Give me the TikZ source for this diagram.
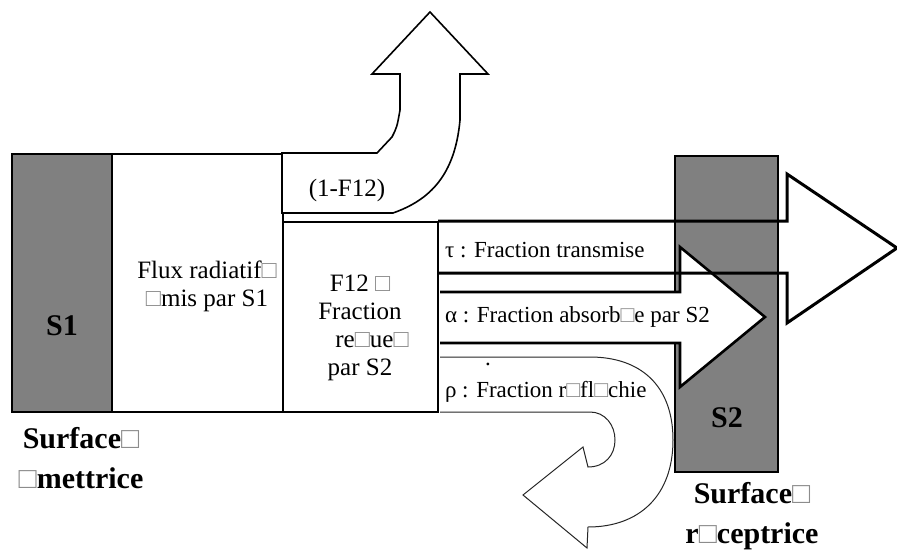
\documentclass[tikz,border=0pt]{standalone}
\usepackage{fontspec}
\setmainfont{Liberation Serif}
\usepackage{tikz}
\usetikzlibrary{positioning}
\definecolor{SurfGray}{HTML}{808080}
\definecolor{MissGray}{HTML}{8C8C8C}
\newcommand{\bx}{\textcolor{MissGray}{□}}

\begin{document}
\begin{tikzpicture}[x=1pt, y=1pt, every node/.style={inner sep=0pt, outer sep=0pt},
    panel/.style={draw, line width=1.8pt, minimum width=#1},
    boxtext/.style={font=\fontsize{25}{28}\selectfont, align=center},
    arrowtext/.style={font=\fontsize{23}{27}\selectfont, anchor=west},
    surflabel/.style={font=\bfseries\fontsize{30}{40}\selectfont, align=center},
    blockarrow/.style={draw, fill=white, line join=miter}]
    \useasboundingbox (0,0) rectangle (897,-551);
    \node[panel=100pt, fill=SurfGray, minimum height=258pt, anchor=north west] (s1) at (12,-154) {};
    \node[panel=171pt, fill=white, minimum height=258pt, right=0pt of s1] (flux) {};
    \node[panel=155pt, fill=white, minimum height=190pt, anchor=south west] (f12) at (flux.south east) {};
    \node[panel=103pt, fill=SurfGray, minimum height=316pt, anchor=north west] (s2) at (675,-156) {};
    \draw[blockarrow, line width=1.6pt] (282,-153) -- (377,-153) -- (392,-137) .. controls (397,-127) .. (400,-110) -- (400,-74) -- (372,-74) -- (430,-12) -- (488,-74) -- (460,-74) -- (460,-120) .. controls (455,-175) and (430,-200) .. (393,-213) -- (282,-213) -- cycle;
    \draw[blockarrow, line width=1pt, draw=black!85] (440,-357) -- (590,-357) .. controls (640,-357) and (673,-385) .. (673,-440) .. controls (673,-495) and (640,-527) .. (588,-527) -- (587,-548) -- (523,-495) -- (583,-447) -- (588,-467) .. controls (605,-467) and (615,-455) .. (615,-440) .. controls (615,-425) and (605,-412) .. (590,-412) -- (440,-412);
    \draw[blockarrow, line width=2.6pt] (440,-292) -- (680,-292) -- (680,-247) -- (765,-317) -- (680,-387) -- (680,-343) -- (440,-343);
    \draw[line width=3pt, line join=miter] (438,-221) -- (787,-221) -- (787,-174) -- (897,-248) -- (787,-323) -- (787,-273) -- (438,-273);
    \node[surflabel] (s1lbl) at (62,-326) {S1};
    \node[surflabel] (s2lbl) at (727,-418) {S2};
    \node[boxtext] (fluxtxt) at (207,-286) {Flux radiatif\bx\\\bx mis par S1};
    \node[boxtext] (f12txt) at (360,-328) {F12 \bx\\Fraction\\\hspace*{24pt}re\bx ue\bx\\par S2};
    \node[boxtext] (lostxt) at (347,-190) {(1-F12)};
    \node[arrowtext] (tautxt) at (445,-250) {τ : Fraction transmise};
    \node[arrowtext] (alphatxt) at (445,-317) {α : Fraction absorb\bx e par S2};
    \node[arrowtext] (rhotxt) at (445,-392) {ρ : Fraction r\bx fl\bx chie};
    \node[font=\fontsize{23}{27}\selectfont] (stray) at (488,-364) {.};
    \node[surflabel] (emitlbl) at (81,-458) {Surface\bx\\\bx mettrice};
    \node[surflabel] (recvlbl) at (752,-516) {Surface\bx\\r\bx ceptrice};
\end{tikzpicture}
\end{document}
